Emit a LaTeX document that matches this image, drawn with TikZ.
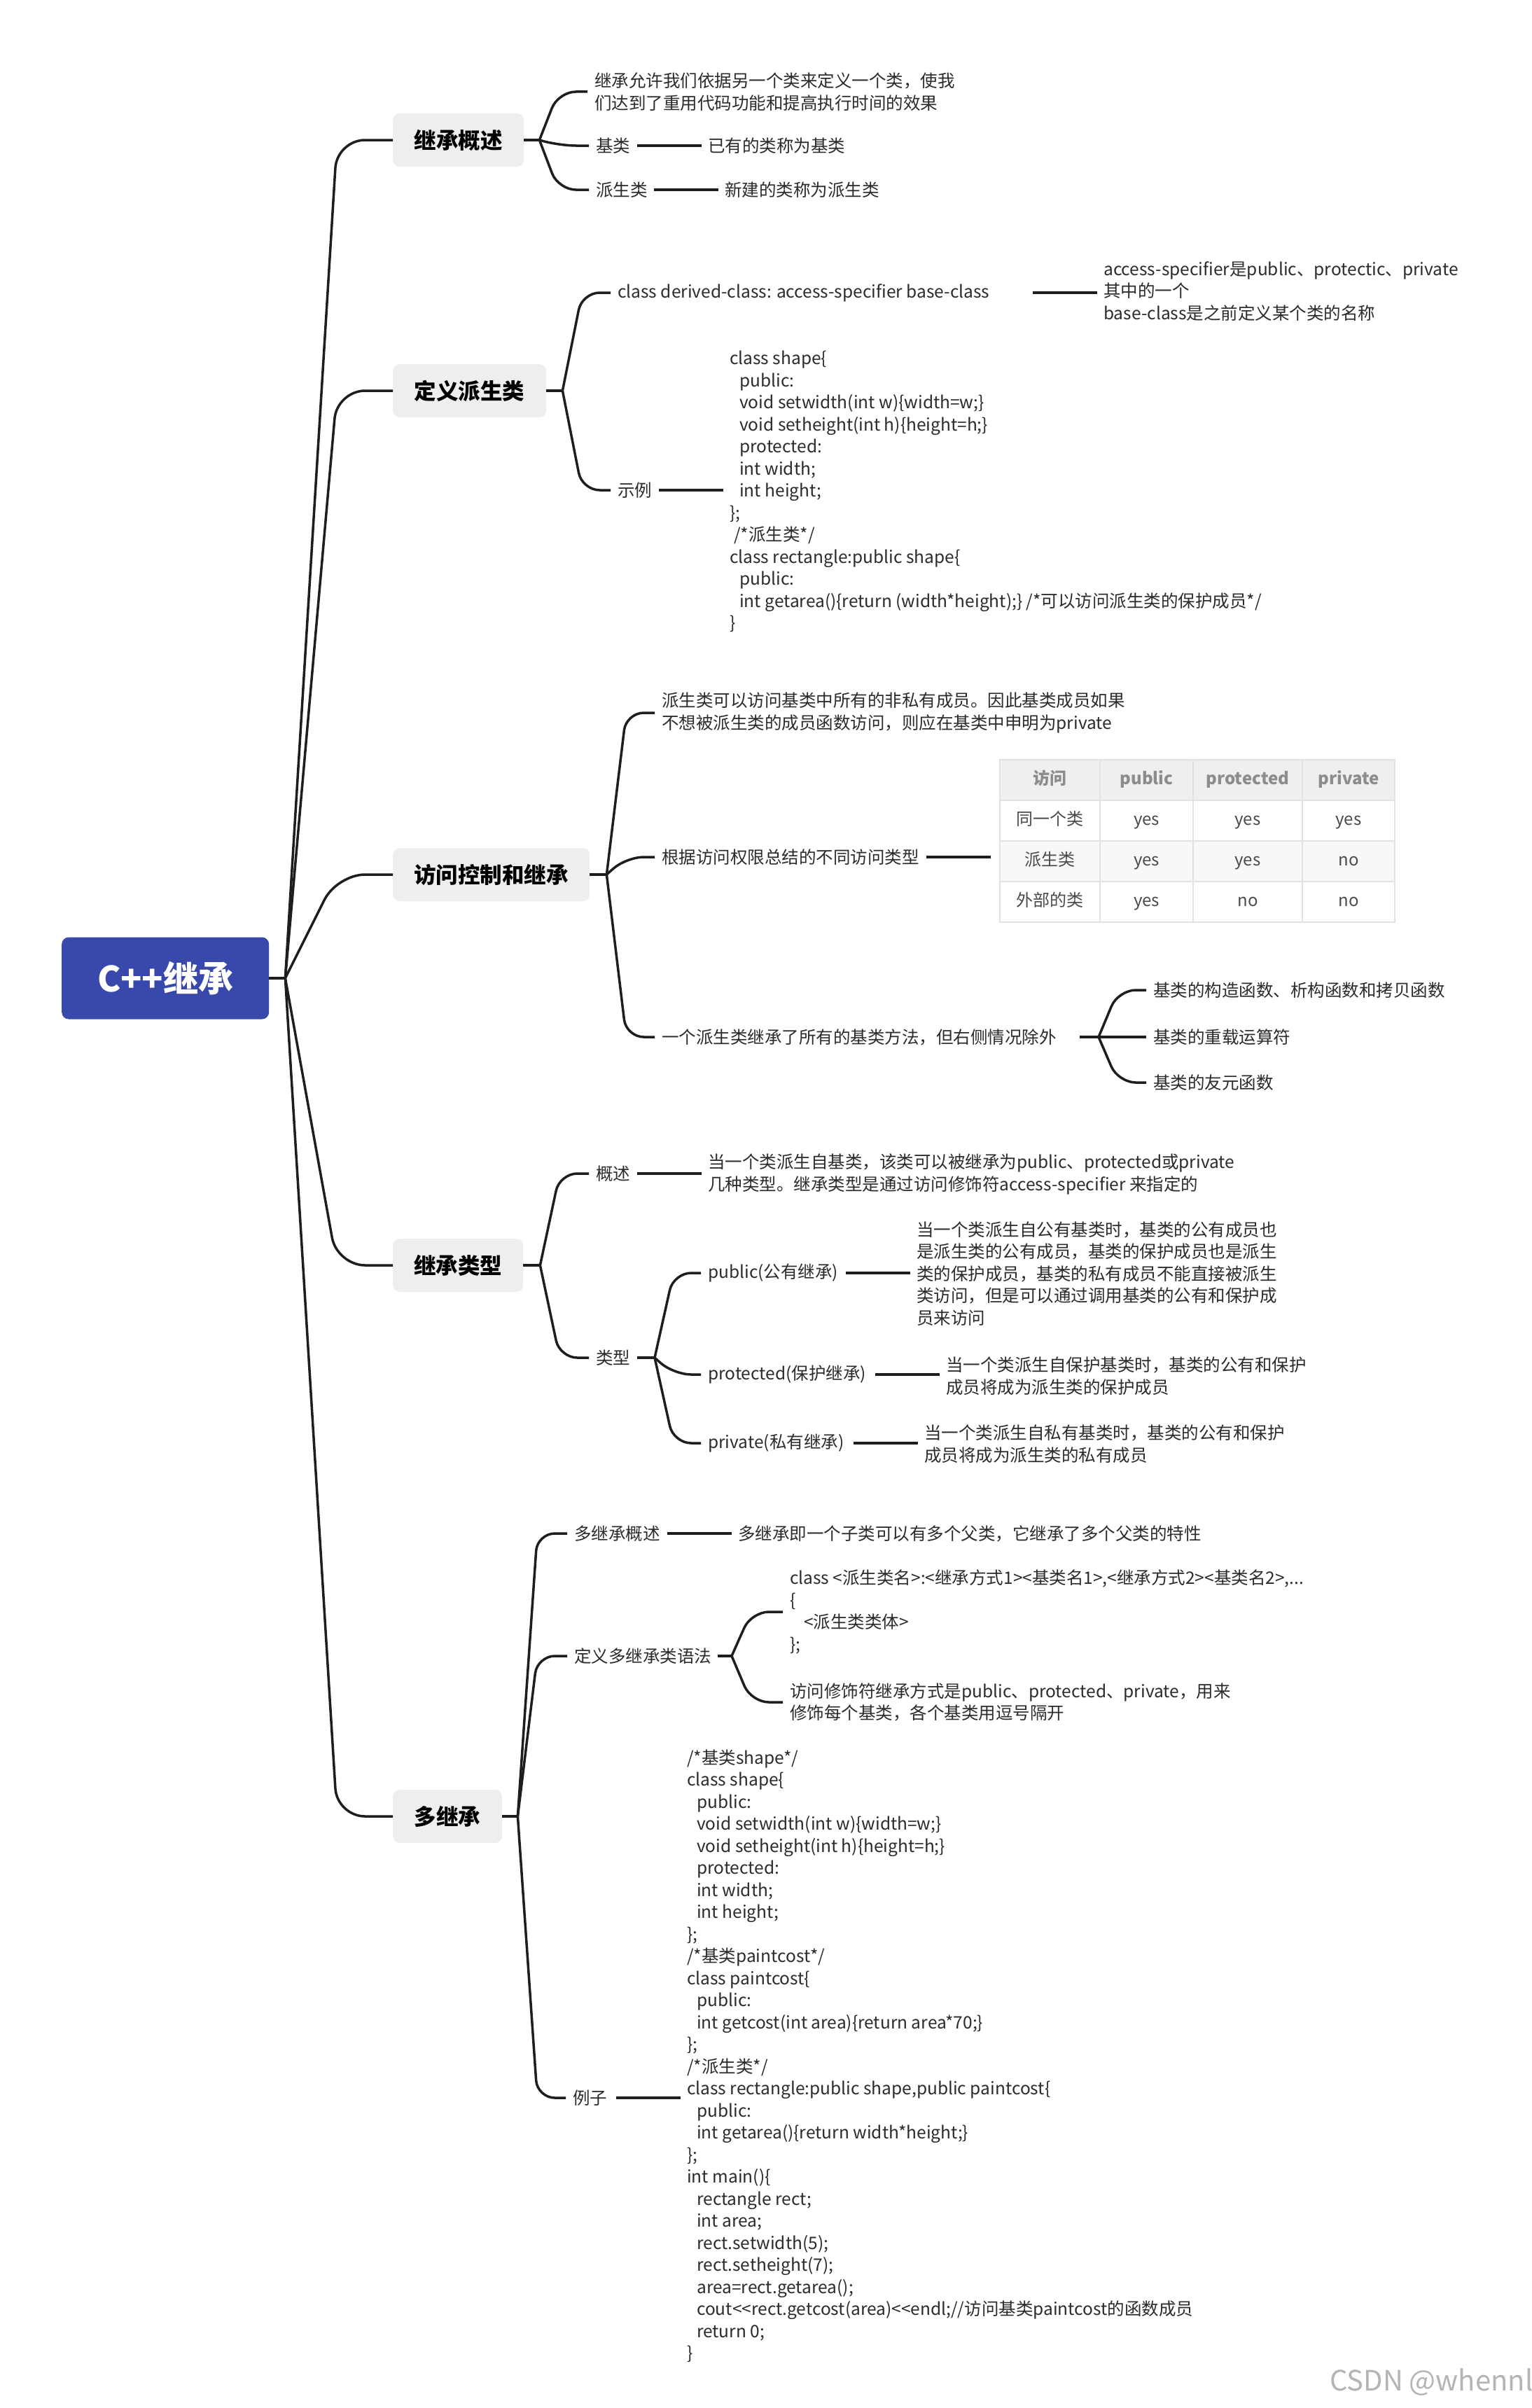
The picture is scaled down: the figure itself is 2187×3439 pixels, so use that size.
\documentclass[tikz,border=0pt]{standalone}
\usepackage{fontspec}
\setmainfont{Noto Sans CJK SC}[Ligatures=TeXOff]
\usetikzlibrary{calc}
\definecolor{rootblue}{HTML}{3949AB}
\definecolor{boxgrey}{HTML}{EEEEEE}
\definecolor{txtc}{HTML}{2B2B2B}
\definecolor{linec}{HTML}{1E1E1E}
\definecolor{tblline}{HTML}{E2E2E2}
\definecolor{tblhead}{HTML}{EFEFEF}
\definecolor{tblalt}{HTML}{F7F8FA}
\definecolor{tblhtext}{HTML}{8C8C8C}
\definecolor{tbltext}{HTML}{4A4A4A}
\definecolor{wmc}{HTML}{B4B4B4}
\newcommand\myind{\hspace*{14pt}}
\newcommand\lnk[2]{\coordinate (#1#2q) at (#2.west |- #1.east);
  \draw[link] ([xshift=-101pt]#1#2q) -- ([xshift=-9pt]#1#2q);}
\begin{document}
\begin{tikzpicture}[x=1pt,y=-1pt,
  rootbox/.style={fill=rootblue, rounded corners=10pt, minimum height=117pt, minimum width=296pt,
    text=white, font=\fontsize{50}{60}\selectfont\bfseries, inner sep=0pt, anchor=west},
  topic/.style={fill=boxgrey, rounded corners=10pt, minimum height=76pt, text=black,
    font=\fontsize{31.5}{38}\selectfont\bfseries, inner sep=0pt, anchor=west},
  txt/.style={inner sep=0pt, anchor=west, align=left, text=txtc, font=\fontsize{24.5}{31.5}\selectfont},
  curve/.style={draw=linec, line width=3.5pt, rounded corners=25pt},
  trunk/.style={draw=linec, line width=3.5pt, rounded corners=40pt},
  link/.style={draw=linec, line width=4.2pt},
  cell/.style={draw=tblline, line width=1.2pt, minimum height=58pt, inner sep=0pt, outer sep=0pt,
    anchor=north west, font=\fontsize{24}{28}\selectfont, text=tbltext, text height=18pt, text depth=5pt},
  headcell/.style={cell, fill=tblhead, text=tblhtext, font=\fontsize{24}{28}\selectfont\bfseries},
  altcell/.style={cell, fill=tblalt},
  c1w/.style={minimum width=143pt}, c2w/.style={minimum width=133pt},
  c3w/.style={minimum width=156pt}, c4w/.style={minimum width=132pt}
]
\fill[white] (0,0) rectangle (2187,3439);
\useasboundingbox (0,0) rectangle (2187,3439);

% root and topics
\node[rootbox] (root) at (88,1397) {C++继承};
\node[topic, minimum width=187pt] (t1) at (561,200) {继承概述};
\node[topic, minimum width=219pt] (t2) at (561,558) {定义派生类};
\node[topic, minimum width=281pt] (t3) at (561,1249) {访问控制和继承};
\node[topic, minimum width=186pt] (t4) at (561,1807) {继承类型};
\node[topic, minimum width=156pt] (t5) at (561,2594) {多继承};

\coordinate (J0) at ([xshift=23pt]root.east);
\coordinate (J0c) at ([xshift=74pt]J0);
\draw[curve] (root.east) -- (J0);
\foreach \n in {t1,t2,t3,t4,t5} \draw[trunk] (J0) -- (J0c |- \n.west) -- (\n.west);

% section 1
\node[txt] (a1) at (849,131) {继承允许我们依据另一个类来定义一个类，使我\\们达到了重用代码功能和提高执行时间的效果};
\node[txt] (a2) at (851,208) {基类};
\node[txt] (a2r) at (1011,208) {已有的类称为基类};
\node[txt] (a3) at (851,271) {派生类};
\node[txt] (a3r) at (1035,271) {新建的类称为派生类};
\coordinate (J1) at ([xshift=22pt]t1.east);
\coordinate (J1c) at ([xshift=27pt]J1);
\draw[curve] (t1.east) -- (J1);
\foreach \n in {a1,a2,a3} \draw[curve] (J1) -- (J1c |- \n.west) -- ([xshift=-10pt]\n.west);
\lnk{a2}{a2r}
\lnk{a3}{a3r}

% section 2
\node[txt] (b1) at (882,418) {class derived-class: access-specifier base-class};
\node[txt] (b1r) at (1576,416) {access-specifier是public、protectic、private\\其中的一个\\base-class是之前定义某个类的名称};
\node[txt] (b2) at (882,700) {示例};
\node[txt] (b2r) at (1042,702) {class shape\{\\
\myind public:\\
\myind void setwidth(int w)\{width=w;\}\\
\myind void setheight(int h)\{height=h;\}\\
\myind protected:\\
\myind int width;\\
\myind int height;\\
\};\\
\hspace*{6pt}/*派生类*/\\
class rectangle:public shape\{\\
\myind public:\\
\myind int getarea()\{return (width*height);\} /*可以访问派生类的保护成员*/\\
\}};
\coordinate (J2) at ([xshift=23pt]t2.east);
\coordinate (J2c) at ([xshift=28pt]J2);
\draw[curve] (t2.east) -- (J2);
\foreach \n in {b1,b2} \draw[curve] (J2) -- (J2c |- \n.west) -- ([xshift=-10pt]\n.west);
\lnk{b1}{b1r}
\coordinate (b2q) at (b2r.west |- b2.east);
\draw[link] ([xshift=-101pt]b2q) -- ([xshift=-9pt]b2q);

% section 3
\node[txt] (c1) at (945,1018) {派生类可以访问基类中所有的非私有成员。因此基类成员如果\\不想被派生类的成员函数访问，则应在基类中申明为private};
\node[txt] (c2) at (945,1224) {根据访问权限总结的不同访问类型};
\node[txt] (c3) at (945,1481) {一个派生类继承了所有的基类方法，但右侧情况除外};
\node[txt] (c31) at (1647,1414) {基类的构造函数、析构函数和拷贝函数};
\node[txt] (c32) at (1647,1481) {基类的重载运算符};
\node[txt] (c33) at (1647,1546) {基类的友元函数};
\coordinate (J3) at ([xshift=24pt]t3.east);
\coordinate (J3c) at ([xshift=28pt]J3);
\draw[curve] (t3.east) -- (J3);
\foreach \n in {c1,c2,c3} \draw[curve] (J3) -- (J3c |- \n.west) -- ([xshift=-10pt]\n.west);
\coordinate (J33) at (1569,1481);
\coordinate (J33c) at ([xshift=28pt]J33);
\draw[curve] ([xshift=-27pt]J33) -- (J33);
\foreach \n in {c31,c32,c33} \draw[curve] (J33) -- (J33c |- \n.west) -- ([xshift=-10pt]\n.west);

% table
\node[headcell, c1w] (h1) at (1428,1085) {访问};
\node[headcell, c2w] (h2) at (1571,1085) {public};
\node[headcell, c3w] (h3) at (1704,1085) {protected};
\node[headcell, c4w] (h4) at (1860,1085) {private};
\node[cell, c1w] (r11) at (1428,1143) {同一个类};
\node[cell, c2w] (r12) at (1571,1143) {yes};
\node[cell, c3w] (r13) at (1704,1143) {yes};
\node[cell, c4w] (r14) at (1860,1143) {yes};
\node[altcell, c1w] (r21) at (1428,1201) {派生类};
\node[altcell, c2w] (r22) at (1571,1201) {yes};
\node[altcell, c3w] (r23) at (1704,1201) {yes};
\node[altcell, c4w] (r24) at (1860,1201) {no};
\node[cell, c1w] (r31) at (1428,1259) {外部的类};
\node[cell, c2w] (r32) at (1571,1259) {yes};
\node[cell, c3w] (r33) at (1704,1259) {no};
\node[cell, c4w] (r34) at (1860,1259) {no};
\coordinate (tq) at (h1.west |- c2.east);
\draw[link] ([xshift=-105pt]tq) -- ([xshift=-13pt]tq);

% section 4
\node[txt] (d1) at (851,1676) {概述};
\node[txt] (d1r) at (1011,1677) {当一个类派生自基类，该类可以被继承为public、protected或private\\几种类型。继承类型是通过访问修饰符access-specifier 来指定的};
\node[txt] (d2) at (851,1939) {类型};
\node[txt] (d21) at (1011,1818) {public(公有继承)};
\node[txt] (d21r) at (1309,1819) {当一个类派生自公有基类时，基类的公有成员也\\是派生类的公有成员，基类的保护成员也是派生\\类的保护成员，基类的私有成员不能直接被派生\\类访问，但是可以通过调用基类的公有和保护成\\员来访问};
\node[txt] (d22) at (1011,1963) {protected(保护继承)};
\node[txt] (d22r) at (1351,1965) {当一个类派生自保护基类时，基类的公有和保护\\成员将成为派生类的保护成员};
\node[txt] (d23) at (1011,2061) {private(私有继承)};
\node[txt] (d23r) at (1320,2062) {当一个类派生自私有基类时，基类的公有和保护\\成员将成为派生类的私有成员};
\coordinate (J4) at ([xshift=24pt]t4.east);
\coordinate (J4c) at ([xshift=28pt]J4);
\draw[curve] (t4.east) -- (J4);
\foreach \n in {d1,d2} \draw[curve] (J4) -- (J4c |- \n.west) -- ([xshift=-10pt]\n.west);
\lnk{d1}{d1r}
\coordinate (J42) at (935,1939);
\coordinate (J42c) at ([xshift=27pt]J42);
\draw[curve] ([xshift=10pt]d2.east) -- (J42);
\foreach \n in {d21,d22,d23} \draw[curve] (J42) -- (J42c |- \n.west) -- ([xshift=-10pt]\n.west);
\lnk{d21}{d21r}
\lnk{d22}{d22r}
\lnk{d23}{d23r}

% section 5
\node[txt] (e1) at (820,2190) {多继承概述};
\node[txt] (e1r) at (1054,2190) {多继承即一个子类可以有多个父类，它继承了多个父类的特性};
\node[txt] (e2) at (820,2365) {定义多继承类语法};
\node[txt] (e21) at (1128,2302) {class <派生类名>:<继承方式1><基类名1>,<继承方式2><基类名2>,...\\
\{\\
\hspace*{20pt}<派生类类体>\\
\};};
\node[txt] (e22) at (1128,2431) {访问修饰符继承方式是public、protected、private，用来\\修饰每个基类，各个基类用逗号隔开};
\node[txt] (e3) at (818,2996) {例子};
\node[txt] (e3r) at (981,2936) {/*基类shape*/\\
class shape\{\\
\myind public:\\
\myind void setwidth(int w)\{width=w;\}\\
\myind void setheight(int h)\{height=h;\}\\
\myind protected:\\
\myind int width;\\
\myind int height;\\
\};\\
/*基类paintcost*/\\
class paintcost\{\\
\myind public:\\
\myind int getcost(int area)\{return area*70;\}\\
\};\\
/*派生类*/\\
class rectangle:public shape,public paintcost\{\\
\myind public:\\
\myind int getarea()\{return width*height;\}\\
\};\\
int main()\{\\
\myind rectangle rect;\\
\myind int area;\\
\myind rect.setwidth(5);\\
\myind rect.setheight(7);\\
\myind area=rect.getarea();\\
\myind cout<<rect.getcost(area)<<endl;//访问基类paintcost的函数成员\\
\myind return 0;\\
\}};
\coordinate (J5) at ([xshift=22pt]t5.east);
\coordinate (J5c) at ([xshift=28pt]J5);
\draw[curve] (t5.east) -- (J5);
\foreach \n in {e1,e2,e3} \draw[curve] (J5) -- (J5c |- \n.west) -- ([xshift=-10pt]\n.west);
\lnk{e1}{e1r}
\coordinate (J52) at (1045,2365);
\coordinate (J52c) at ([xshift=28pt]J52);
\draw[curve] ([xshift=9pt]e2.east) -- (J52);
\foreach \n in {e21,e22} \draw[curve] (J52) -- (J52c |- \n.west) -- ([xshift=-10pt]\n.west);
\coordinate (e3q) at (e3r.west |- e3.east);
\draw[link] ([xshift=-101pt]e3q) -- ([xshift=-9pt]e3q);

% watermark
\node[inner sep=0pt, anchor=west, text=wmc, font=\fontsize{40}{48}\selectfont] (wm) at (1899,3402) {CSDN @whennl};
\end{tikzpicture}
\end{document}
